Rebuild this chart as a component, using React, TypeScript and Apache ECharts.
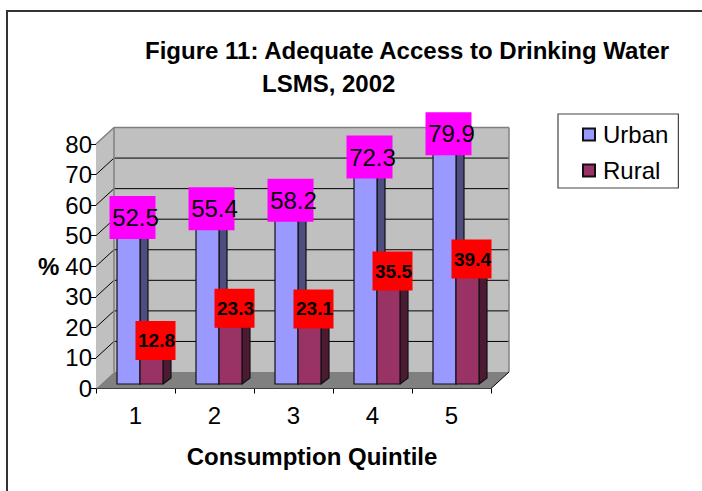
import React, { useEffect, useRef } from "react";
import * as echarts from "echarts";

const categories = ["1", "2", "3", "4", "5"];
const urban = [52.5, 55.4, 58.2, 72.3, 79.9];
const rural = [12.8, 23.3, 23.1, 35.5, 39.4];
const yTicks = [0, 10, 20, 30, 40, 50, 60, 70, 80];

const FONT = '"Liberation Sans", Arial, sans-serif';
const WALL_DX = 18;
const WALL_DY = -16.5;
const BAR_DX = 8;
const BAR_DY = -6;
const BASE_DX = 4.5;
const BASE_DY = -4.5;
const BAR_W = 23;

function wallItem(_p: any, api: any) {
  const band = api.size([1, 0])[0];
  const x0 = api.coord([0, 0])[0] - band / 2;
  const x1 = x0 + band * categories.length;
  const y0 = api.coord([0, 0])[1];
  const y8 = api.coord([0, 80])[1];
  const children: any[] = [];
  const poly = (points: number[][], fill: string) => ({
    type: "polygon",
    shape: { points },
    style: { fill, stroke: "none" },
  });
  const line = (a: number[], b: number[], stroke: string, lineWidth: number) => ({
    type: "line",
    shape: { x1: a[0], y1: a[1], x2: b[0], y2: b[1] },
    style: { stroke, lineWidth },
  });
  children.push(
    poly([[x0, y0], [x0 + WALL_DX, y0 + WALL_DY], [x0 + WALL_DX, y8 + WALL_DY], [x0, y8]], "#C0C0C0"),
    poly([[x0 + WALL_DX, y0 + WALL_DY], [x1 + WALL_DX, y0 + WALL_DY], [x1 + WALL_DX, y8 + WALL_DY], [x0 + WALL_DX, y8 + WALL_DY]], "#C0C0C0"),
    poly([[x0, y0], [x1, y0], [x1 + WALL_DX, y0 + WALL_DY], [x0 + WALL_DX, y0 + WALL_DY]], "#808080"),
  );
  yTicks.forEach((t) => {
    if (t === 0 || t === 80) return;
    const y = api.coord([0, t])[1];
    children.push(
      line([x0, y], [x0 + WALL_DX, y + WALL_DY], "#000", 1),
      line([x0 + WALL_DX, y + WALL_DY], [x1 + WALL_DX, y + WALL_DY], "#000", 1),
    );
  });
  children.push(
    line([x0, y8], [x0 + WALL_DX, y8 + WALL_DY], "#808080", 1.5),
    line([x0 + WALL_DX, y8 + WALL_DY], [x1 + WALL_DX, y8 + WALL_DY], "#808080", 1.5),
    line([x0 + WALL_DX, y8 + WALL_DY], [x0 + WALL_DX, y0 + WALL_DY], "#808080", 1.5),
    line([x1 + WALL_DX, y8 + WALL_DY], [x1 + WALL_DX, y0 + WALL_DY], "#808080", 1.5),
    line([x1, y0], [x1 + WALL_DX, y0 + WALL_DY], "#000", 1),
  );
  return { type: "group", children };
}

function barRenderer(opts: {
  offset: number;
  front: string;
  side: string;
  top: string;
  labelBg: string;
  boxW: number;
  boxH: number;
  fontSize: number;
  fontWeight: string;
  textDx: number;
  labelDy: number;
}) {
  return (_p: any, api: any) => {
    const cat = api.value(0);
    const val = api.value(1);
    const base = api.coord([cat, 0]);
    const top = api.coord([cat, val]);
    const x0 = base[0] + BASE_DX + opts.offset * BAR_W;
    const x1 = x0 + BAR_W;
    const yb = base[1] + BASE_DY;
    const yt = top[1] + BASE_DY;
    const stroke = { stroke: "#111", lineWidth: 1.2, lineJoin: "round" };
    const cx = (x0 + x1) / 2 + BAR_DX / 2;
    const cy = yt + BAR_DY / 2 + opts.labelDy;
    return {
      type: "group",
      children: [
        { type: "polygon", shape: { points: [[x1, yb], [x1 + BAR_DX, yb + BAR_DY], [x1 + BAR_DX, yt + BAR_DY], [x1, yt]] }, style: { fill: opts.side, ...stroke } },
        { type: "polygon", shape: { points: [[x0, yt], [x1, yt], [x1 + BAR_DX, yt + BAR_DY], [x0 + BAR_DX, yt + BAR_DY]] }, style: { fill: opts.top, ...stroke } },
        { type: "rect", shape: { x: x0, y: yt, width: BAR_W, height: yb - yt }, style: { fill: opts.front, ...stroke } },
        { type: "rect", z2: 100, shape: { x: cx - opts.boxW / 2, y: cy - opts.boxH / 2, width: opts.boxW, height: opts.boxH }, style: { fill: opts.labelBg } },
        {
          type: "text",
          z2: 101,
          x: cx + opts.textDx,
          y: cy,
          style: {
            text: String(val.toFixed(1)),
            fill: "#000",
            font: `${opts.fontWeight} ${opts.fontSize}px ${FONT}`,
            align: "center",
            verticalAlign: "middle",
          },
        },
      ],
    };
  };
}

export default function App() {
  const ref = useRef<HTMLDivElement>(null);
  useEffect(() => {
    const chart = echarts.init(ref.current!, undefined, { renderer: "svg" });
    chart.setOption({
      animation: false,
      backgroundColor: "#fff",
      textStyle: { fontFamily: FONT },
      graphic: [
        { type: "rect", z: -1, shape: { x: 7, y: 11, width: 760, height: 540 }, style: { fill: "none", stroke: "#333", lineWidth: 2 } },
        { type: "text", left: 145, top: 38, style: { text: "Figure 11: Adequate Access to Drinking Water", fill: "#000", font: `bold 24px ${FONT}` } },
        { type: "text", left: 262, top: 71, style: { text: "LSMS, 2002", fill: "#000", font: `bold 24px ${FONT}` } },
      ],
      legend: {
        left: 558,
        top: 114,
        orient: "vertical",
        icon: "rect",
        data: ["Urban", "Rural"],
        itemWidth: 12,
        itemHeight: 12,
        itemGap: 9,
        padding: [7, 10, 4, 24],
        borderColor: "#444",
        borderWidth: 1.2,
        backgroundColor: "#fff",
        textStyle: { fontSize: 24, color: "#000", fontFamily: FONT, padding: [0, 0, 0, 3], lineHeight: 27 },
      },
      grid: { left: 96, top: 144, width: 395, height: 244.5, containLabel: false },
      xAxis: {
        type: "category",
        data: categories,
        boundaryGap: true,
        name: "Consumption Quintile",
        nameLocation: "middle",
        nameGap: 56,
        nameTextStyle: { fontSize: 24, fontWeight: "bold", color: "#000", fontFamily: FONT, padding: [0, 0, 0, 37] },
        axisLine: { lineStyle: { color: "#000", width: 1 } },
        axisTick: { show: true, alignWithLabel: false, length: 5, lineStyle: { color: "#000" } },
        axisLabel: { fontSize: 24, color: "#000", margin: 15, fontFamily: FONT },
      },
      yAxis: {
        type: "value",
        min: 0,
        max: 80,
        interval: 10,
        name: "%",
        nameLocation: "middle",
        nameRotate: 0,
        nameGap: 36,
        nameTextStyle: { fontSize: 24, fontWeight: "bold", color: "#000", fontFamily: FONT, padding: [0, 0, 16, 0] },
        axisLine: { show: true, lineStyle: { color: "#000", width: 1 } },
        axisTick: { show: true, length: 5, lineStyle: { color: "#000" } },
        axisLabel: { fontSize: 24, color: "#000", margin: 4, fontFamily: FONT },
        splitLine: { show: false },
      },
      series: [
        {
          type: "custom",
          name: "walls",
          silent: true,
          z: 1,
          data: [[0, 0]],
          encode: { x: 0, y: 1 },
          renderItem: wallItem,
        },
        {
          type: "custom",
          name: "Urban",
          z: 2,
          itemStyle: { color: "#9999FF", borderColor: "#111", borderWidth: 1 },
          data: urban.map((v, i) => [i, v]),
          encode: { x: 0, y: 1 },
          renderItem: barRenderer({ offset: -1, front: "#9999FF", side: "#4D4D80", top: "#7A7ACC", labelBg: "#FF00FF", boxW: 46, boxH: 43, fontSize: 24, fontWeight: "normal", textDx: 3, labelDy: -3 }),
        },
        {
          type: "custom",
          name: "Rural",
          z: 3,
          itemStyle: { color: "#993366", borderColor: "#111", borderWidth: 1 },
          data: rural.map((v, i) => [i, v]),
          encode: { x: 0, y: 1 },
          renderItem: barRenderer({ offset: 0, front: "#993366", side: "#4D1A33", top: "#7A2952", labelBg: "#FF0000", boxW: 40, boxH: 39, fontSize: 19, fontWeight: "bold", textDx: 1, labelDy: -1.5 }),
        },
      ],
    });
    return () => chart.dispose();
  }, []);
  return <div ref={ref} style={{ position: "absolute", left: 0, top: 0, width: 702, height: 491 }} />;
}
